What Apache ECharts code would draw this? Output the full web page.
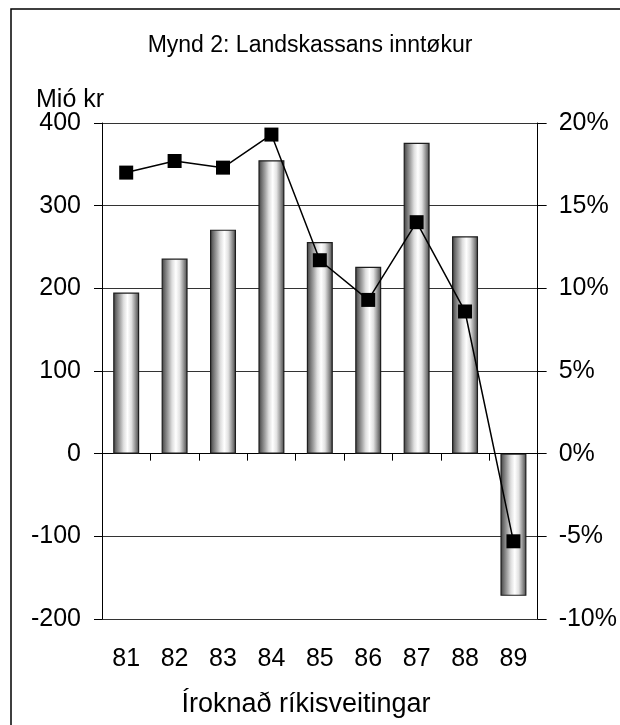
<!DOCTYPE html>
<html>
<head>
<meta charset="utf-8">
<title>Mynd 2: Landskassans inntøkur</title>
<script src="https://cdn.jsdelivr.net/npm/echarts@6/dist/echarts.min.js"></script>
<style>
  html, body { margin: 0; padding: 0; background: #fff; }
  #chart { width: 620px; height: 725px; }
</style>
</head>
<body>
<div id="chart"></div>
<script>
// ár (1981-1989)
var years = ["81", "82", "83", "84", "85", "86", "87", "88", "89"];
// inntøkur í mió kr (vinstra ás)
var revenue = [195, 236, 271, 355, 256, 226, 376, 263, -172];
// vøkstur í % (høgra ás)
var growth = [17.0, 17.7, 17.3, 19.3, 11.7, 9.3, 14.0, 8.6, -5.3];

var fontFamily = "Liberation Sans, Arial, sans-serif";

// sylindur-litur á stabbunum
var barColor = new echarts.graphic.LinearGradient(0, 0, 1, 0, [
  { offset: 0, color: "#3c3c3c" },
  { offset: 0.12, color: "#6e6e6e" },
  { offset: 0.26, color: "#a4a4a4" },
  { offset: 0.4, color: "#dedede" },
  { offset: 0.55, color: "#ffffff" },
  { offset: 0.7, color: "#e2e2e2" },
  { offset: 0.82, color: "#a4a4a4" },
  { offset: 0.92, color: "#6e6e6e" },
  { offset: 1, color: "#3c3c3c" }
]);

var chart = echarts.init(document.getElementById("chart"));
chart.setOption({
  animation: false,
  backgroundColor: "#fff",
  textStyle: { fontFamily: fontFamily },
  title: [
    {
      text: "Mynd 2: Landskassans inntøkur",
      left: "center",
      top: 29,
      textStyle: { fontSize: 23, fontWeight: "normal", color: "#000", fontFamily: fontFamily }
    },
    {
      text: "Mió kr",
      left: 31,
      top: 83,
      textStyle: { fontSize: 25, fontWeight: "normal", color: "#000", fontFamily: fontFamily }
    }
  ],
  graphic: [
    {
      type: "rect",
      shape: { x: 11, y: 9, width: 700, height: 800 },
      style: { fill: null, stroke: "#000", lineWidth: 1.5 },
      silent: true
    },
    {
      type: "text",
      x: 306,
      y: 705,
      style: {
        text: "Íroknað ríkisveitingar",
        fontSize: 27,
        fontFamily: fontFamily,
        fill: "#000",
        align: "center",
        verticalAlign: "middle"
      }
    }
  ],
  grid: {
    left: 102,
    right: 79,
    top: 123,
    bottom: 106
  },
  xAxis: [
    {
      type: "category",
      data: years,
      position: "bottom",
      axisLine: { show: false },
      axisTick: { show: false },
      axisLabel: { color: "#000", fontSize: 25, margin: 28, fontFamily: fontFamily },
      splitLine: { show: false }
    },
    {
      type: "category",
      data: years,
      position: "bottom",
      axisLine: { show: true, onZero: true, lineStyle: { color: "#000", width: 1 } },
      axisTick: { show: true, length: 7, lineStyle: { color: "#000" } },
      axisLabel: { show: false },
      splitLine: { show: false }
    }
  ],
  yAxis: [
    {
      type: "value",
      min: -200,
      max: 400,
      interval: 100,
      axisLine: { show: true, lineStyle: { color: "#000", width: 1 } },
      axisTick: { show: true, length: 8, lineStyle: { color: "#000" } },
      axisLabel: { color: "#000", fontSize: 25, margin: 21, fontFamily: fontFamily },
      splitLine: { show: true, lineStyle: { color: "#333", width: 1 } }
    },
    {
      type: "value",
      min: -10,
      max: 20,
      interval: 5,
      position: "right",
      axisLine: { show: true, lineStyle: { color: "#000", width: 1 } },
      axisTick: { show: true, length: 9, lineStyle: { color: "#000" } },
      axisLabel: { color: "#000", fontSize: 25, margin: 21, formatter: "{value}%", fontFamily: fontFamily },
      splitLine: { show: false }
    }
  ],
  series: [
    {
      name: "Inntøkur",
      type: "bar",
      xAxisIndex: 0,
      yAxisIndex: 0,
      barWidth: 26,
      data: revenue,
      itemStyle: {
        color: barColor,
        borderColor: "#1e1e1e",
        borderWidth: 1.2
      }
    },
    {
      name: "Vøkstur",
      type: "line",
      xAxisIndex: 0,
      yAxisIndex: 1,
      data: growth,
      symbol: "rect",
      symbolSize: 14,
      lineStyle: { color: "#000", width: 1.5 },
      itemStyle: { color: "#000" },
      z: 5
    }
  ]
});
</script>
</body>
</html>
